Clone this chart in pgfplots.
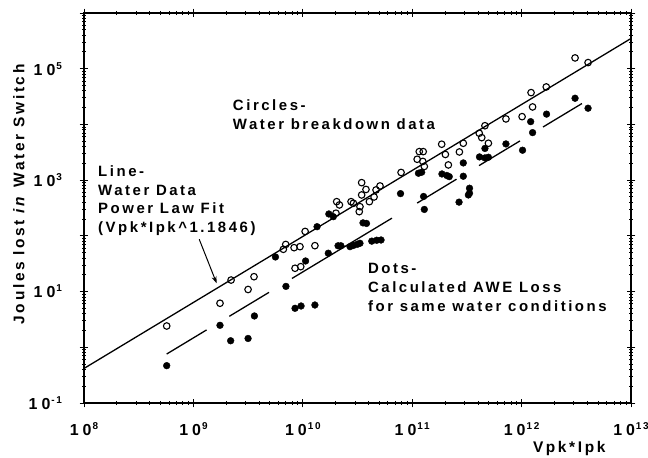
\documentclass[border=0pt]{standalone}
\usepackage{fontspec}
\setmainfont{Liberation Sans}[LetterSpace=17]
\usepackage{pgfplots}
\pgfplotsset{compat=1.18}
\usetikzlibrary{arrows.meta}
\newcommand{\tfont}{\bfseries\fontsize{15}{19}\selectfont}
\newcommand{\lfont}{\bfseries\fontsize{15.5}{19}\selectfont}
\newcommand{\tl}[1]{\mbox{\fontsize{16}{19}\bfseries\selectfont 1\kern4bp 0\raisebox{6bp}{\fontsize{10}{12}\selectfont\kern1bp #1}}}
\begin{document}
\begin{tikzpicture}
\begin{axis}[name=ax,
  xmode=log, ymode=log,
  scale only axis, width=547bp, height=390bp,
  xmin=1e8, xmax=1e13, ymin=1e-1, ymax=1e6,
  clip=false,
  xtick={1e8,1e9,1e10,1e11,1e12,1e13},
  xticklabels={\tl{8},\tl{9},\tl{10},\tl{11},\tl{12},\tl{13}},
  ytick={1e-1,1,1e1,1e2,1e3,1e4,1e5,1e6},
  yticklabels={\tl{-1},,\tl{1},,\tl{3},,\tl{5},},
  tick align=center, major tick length=9bp, minor tick length=4bp,
  axis line style={line width=1.2bp},
  every tick/.style={black, line width=0.9bp},
  ticklabel style={font=\lfont},
  xticklabel style={yshift=-12bp},
  yticklabel style={xshift=-14bp},
  xlabel={Vpk*Ipk},
  ylabel={Joules lost \textit{in} Water Switch},
  label style={font=\lfont},
  xlabel style={at={(rel axis cs:0.887,0)}, anchor=north, yshift=-35bp},
  ylabel style={at={(rel axis cs:-0.119,0.535)}, anchor=center},
]
% power law fit
\addplot[black, line width=1.3bp] coordinates {(1e8,0.417) (1e13,349000)};
% AWE loss segments
\addplot[black, line width=1.3bp] coordinates {(5.70e8,0.757) (1.32e9,2.05)};
\addplot[black, line width=1.3bp] coordinates {(2.13e9,3.60) (4.91e9,9.68)};
\addplot[black, line width=1.3bp] coordinates {(7.96e9,17.2) (6.53e10,208)};
\addplot[black, line width=1.3bp] coordinates {(1.11e11,388) (2.54e11,1040)};
\addplot[black, line width=1.3bp] coordinates {(4.08e11,1824) (9.66e11,5058)};
\addplot[black, line width=1.3bp] coordinates {(1.57e12,8995) (3.56e12,23710)};
% open circles: water breakdown data
\addplot[only marks, mark=o, mark size=3.3pt, mark options={line width=1.1bp, fill=white}, black] coordinates {
(5.70e8,2.41) (1.75e9,6.17) (2.21e9,16.1) (3.16e9,10.9) (3.58e9,18.5) (6.64e9,57.4) (6.98e9,70.1) (8.32e9,61.4) (9.42e9,64.0) (1.29e10,66.7) (8.49e9,26.2) (9.57e9,28.0) (1.05e10,120) (2.04e10,411) (2.16e10,359) (2.01e10,255) (2.76e10,411) (2.90e10,385) (3.28e10,272) (3.33e10,334) (3.45e10,902) (3.78e10,681) (3.45e10,542) (4.06e10,411) (4.48e10,499) (4.67e10,667) (5.08e10,787) (7.91e10,1374) (1.11e11,2371) (1.16e11,3251) (1.26e11,3251) (1.25e11,2168) (1.29e11,1762) (1.86e11,4416) (2.01e11,2891) (2.14e11,1875) (2.70e11,3206) (2.93e11,4592) (4.10e11,6950) (4.32e11,5794) (4.97e11,4592) (4.62e11,9484) (7.19e11,12560) (1.01e12,13800) (1.22e12,37240) (1.26e12,20600) (1.68e12,47100) (3.08e12,156300) (4.05e12,128800)
};
% filled dots: calculated AWE loss
\addplot[only marks, mark=*, mark size=3.4pt, black] coordinates {
(5.70e8,0.468) (1.75e9,2.48) (2.19e9,1.31) (3.16e9,1.44) (3.61e9,3.65) (7.01e9,12.4) (5.62e9,41.8) (8.49e9,5.01) (9.64e9,5.51) (1.29e10,5.74) (1.06e10,35.4) (1.35e10,146) (1.71e10,48.8) (1.73e10,247) (1.90e10,221) (2.10e10,66.4) (2.23e10,66.4) (2.70e10,64.0) (2.90e10,67.3) (3.15e10,70.6) (3.33e10,73.6) (3.55e10,171) (3.82e10,167) (4.27e10,80.4) (4.74e10,83.4) (5.19e10,84.3) (7.82e10,573) (1.14e11,1330) (1.22e11,1387) (1.27e11,509) (1.29e11,298) (1.87e11,1291) (2.07e11,1213) (2.18e11,1156) (2.93e11,2037) (2.93e11,1175) (2.68e11,403) (3.34e11,716) (3.34e11,582) (3.26e11,542) (4.12e11,2612) (4.62e11,2506) (4.97e11,2576) (4.62e11,3707) (7.19e11,4467) (1.02e12,3443) (1.21e12,11220) (1.26e12,7129) (1.69e12,15310) (3.08e12,29510) (4.05e12,19540)
};
\node[anchor=north west, inner sep=0, align=left, font=\tfont] at (rel axis cs:0.272,0.777) {Circles-\\Water breakdown data};
\node[anchor=north west, inner sep=0, align=left, font=\tfont] at (rel axis cs:0.0256,0.610) {Line-\\Water Data\\Power Law Fit\\(Vpk*Ipk\textasciicircum1.1846)};
\node[anchor=north west, inner sep=0, align=left, font=\tfont] at (rel axis cs:0.519,0.359) {Dots-\\Calculated AWE Loss\\for same water conditions};
\draw[black, line width=1bp, -{Stealth[length=7bp,width=5bp]}] (axis cs:1.13e9,86.9) -- (axis cs:1.63e9,14.1);
\end{axis}
\pgfresetboundingbox
\path[use as bounding box] ([shift={(-84bp,-55bp)}]ax.south west) rectangle ([shift={(17bp,13bp)}]ax.north east);
\end{tikzpicture}
\end{document}
